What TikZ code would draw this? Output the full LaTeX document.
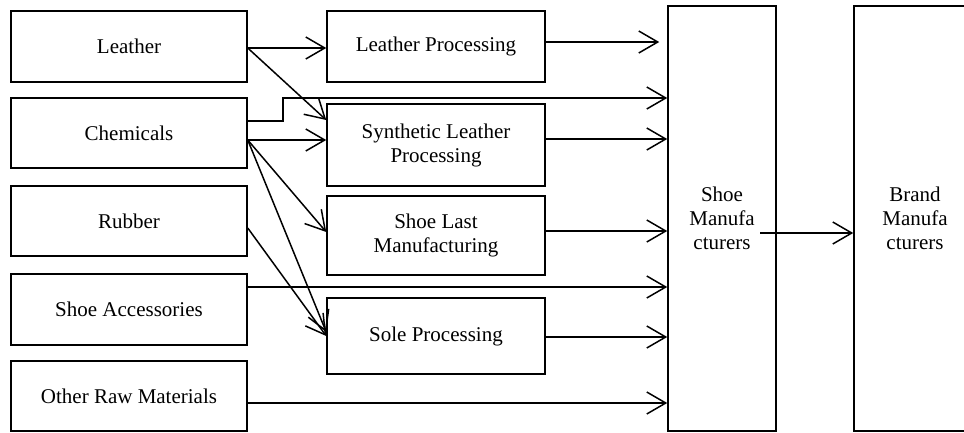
\documentclass[tikz,border=0pt]{standalone}
\usepackage{fontspec}
\setmainfont{Liberation Serif}
\usetikzlibrary{arrows.meta,calc}
\begin{document}
\begin{tikzpicture}[x=1pt,y=-1pt,
  box/.style={draw,line width=1.5pt,inner sep=0pt,align=center,
    font=\fontsize{21}{24}\selectfont},
  arr/.style={line width=1.5pt,-{Straight Barb[length=19pt,width=22pt,line width=1.5pt]}},
  ln/.style={line width=1.5pt}]
\useasboundingbox (0,0) rectangle (964,432);
\clip (0,0) rectangle (964,432);
% left column
\node[box,minimum width=236pt,minimum height=71pt] (leather) at (129,46.5) {Leather};
\node[box,minimum width=236pt,minimum height=70pt] (chem) at (129,133) {Chemicals};
\node[box,minimum width=236pt,minimum height=70pt] (rubber) at (129,221) {Rubber};
\node[box,minimum width=236pt,minimum height=71pt] (acc) at (129,309.5) {Shoe Accessories};
\node[box,minimum width=236pt,minimum height=70pt] (other) at (129,396) {Other Raw Materials};
% middle column
\node[box,minimum width=218pt,minimum height=71pt] (lp) at (436,46.5) {Leather Processing};
\node[box,minimum width=218pt,minimum height=82pt] (slp) at (436,145) {Synthetic Leather\\Processing};
\node[box,minimum width=218pt,minimum height=79pt] (slm) at (436,235.5) {Shoe Last\\Manufacturing};
\node[box,minimum width=218pt,minimum height=76pt] (sole) at (436,336) {Sole Processing};
% right column
\node[box,minimum width=108pt,minimum height=425pt] (shoe) at (722,218.5) {Shoe\\Manufa\\cturers};
\node[box,minimum width=122pt,minimum height=425pt] (brand) at (915,218.5) {Brand\\Manufa\\cturers};
% connectors from left column
\draw[arr] (leather.east |- 0,48) -- (lp.west |- 0,48);
\draw[arr] (leather.east |- 0,48) -- (slp.west |- 0,120);
\coordinate (stp) at (283,98);
\draw[arr] (chem.east |- 0,121) -| (stp) -- (shoe.west |- stp);
\draw[arr] (chem.east |- 0,140) -- (slp.west |- 0,140);
\draw[arr] (chem.east |- 0,140) -- (slm.west |- 0,232);
\draw[arr] (chem.east |- 0,140) -- (sole.west |- 0,332);
\draw[arr] (rubber.east |- 0,228) -- (sole.west |- 0,336);
\draw[arr] (acc.east |- 0,287) -- (shoe.west |- 0,287);
\draw[arr] (other.east |- 0,403) -- (shoe.west |- 0,403);
% middle to shoe manufacturers
\draw[arr,shorten >=8pt] (lp.east |- 0,42) -- (shoe.west |- 0,42);
\draw[arr] (slp.east |- 0,139) -- (shoe.west |- 0,139);
\draw[arr] (slm.east |- 0,231) -- (shoe.west |- 0,231);
\draw[arr] (sole.east |- 0,337) -- (shoe.west |- 0,337);
% shoe to brand
\coordinate (sm) at (760,233);
\draw[arr] (sm) -- (brand.west |- sm);
\end{tikzpicture}
\end{document}
